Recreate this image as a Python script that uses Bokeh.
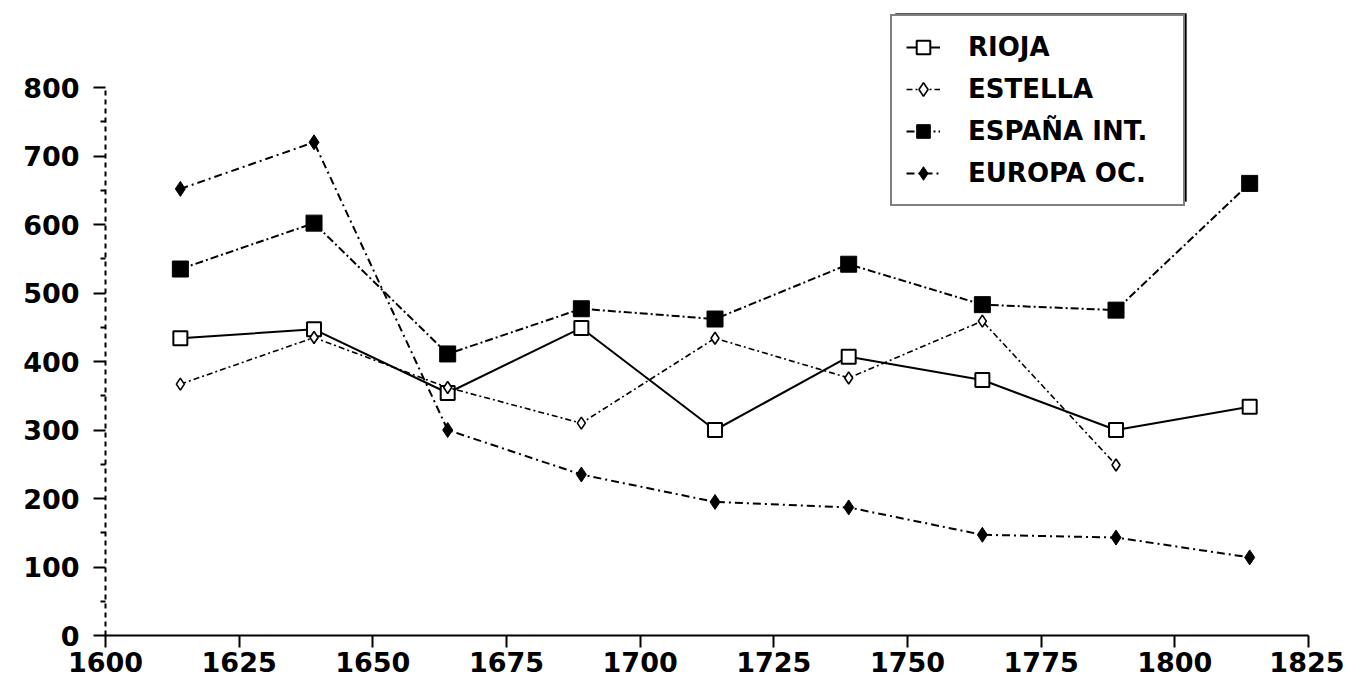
from bokeh.plotting import figure
from bokeh.models import Range1d, FixedTicker, Legend, LegendItem, BoxAnnotation
from bokeh.embed import file_html
from bokeh.resources import INLINE

# ---- data ----
years = [1614, 1639, 1664, 1689, 1714, 1739, 1764, 1789, 1814]
rioja = [434, 447, 354, 449, 300, 407, 373, 300, 334]
estella_years = [1614, 1639, 1664, 1689, 1714, 1739, 1764, 1789]
estella = [367, 435, 362, 310, 434, 376, 459, 249]
espana = [535, 602, 411, 477, 462, 542, 483, 475, 660]
europa = [652, 720, 300, 235, 195, 187, 147, 143, 114]
x_ticks = [1600, 1625, 1650, 1675, 1700, 1725, 1750, 1775, 1800, 1825]
y_ticks = [0, 100, 200, 300, 400, 500, 600, 700, 800]
y_minor = [50, 150, 250, 350, 450, 550, 650, 750]
series_labels = ["RIOJA", "ESTELLA", "ESPAÑA INT.", "EUROPA OC."]

FONT = "DejaVu Sans"

# frame: bottom at 635px, 800 at 87px; frame extends to the top so the legend is not clipped
TOP_PX, BOTTOM_PX, Y800_PX = 4, 635, 87
y_end = 800 * (BOTTOM_PX - TOP_PX) / (BOTTOM_PX - Y800_PX)

p = figure(width=1344, height=690, output_backend="svg", toolbar_location=None,
           x_range=Range1d(1600, 1825), y_range=Range1d(0, y_end),
           min_border_left=105, min_border_right=36, min_border_top=TOP_PX, min_border_bottom=55)
p.outline_line_color = None
p.xgrid.visible = False
p.ygrid.visible = False
p.background_fill_color = "white"

# x axis
xa = p.xaxis[0]
xa.ticker = FixedTicker(ticks=x_ticks)
xa.axis_line_width = 2
xa.major_tick_out = 12
xa.major_tick_in = 0
xa.major_tick_line_width = 2
xa.minor_tick_line_color = None
xa.major_label_standoff = 4
xa.major_label_text_font = FONT
xa.major_label_text_font_style = "bold"
xa.major_label_text_font_size = "27px"
xa.major_label_text_color = "black"

# y axis
ya = p.yaxis[0]
ya.ticker = FixedTicker(ticks=y_ticks, minor_ticks=y_minor)
ya.bounds = (0, 800)
ya.axis_line_width = 2
ya.axis_line_dash = "5 4"
ya.major_tick_out = 12
ya.major_tick_in = 0
ya.major_tick_line_width = 2
ya.minor_tick_out = 5
ya.minor_tick_in = 0
ya.minor_tick_line_width = 2
ya.major_label_standoff = 14
ya.major_label_text_font = FONT
ya.major_label_text_font_style = "bold"
ya.major_label_text_font_size = "27px"
ya.major_label_text_color = "black"

# series
l1 = p.line(years, rioja, line_color="black", line_width=2)
m1 = p.scatter(years, rioja, marker="square", size=14, fill_color="white",
               line_color="black", line_width=2)

l2 = p.line(estella_years, estella, line_color="black", line_width=1.6, line_dash="6 3 2 3")
m2 = p.scatter(estella_years, estella, marker="diamond", size=12, fill_color="white",
               line_color="black", line_width=1.6)

l3 = p.line(years, espana, line_color="black", line_width=2, line_dash="8 3 2 3")
m3 = p.scatter(years, espana, marker="square", size=16, fill_color="black",
               line_color="black", line_width=1)

l4 = p.line(years, europa, line_color="black", line_width=2, line_dash="8 4 2 4")
m4 = p.scatter(years, europa, marker="diamond", size=15, fill_color="black",
               line_color="black", line_width=1)

pairs = [(l1, m1), (l2, m2), (l3, m3), (l4, m4)]

# legend geometry (screen px, relative to the frame's bottom-left corner)
LEG_X, LEG_Y, LEG_W, LEG_H = 785, 429, 291, 188
SHADOW = 5

shadow = BoxAnnotation(left=LEG_X + SHADOW, right=LEG_X + LEG_W + SHADOW,
                       bottom=LEG_Y + SHADOW, top=LEG_Y + LEG_H + SHADOW,
                       left_units="screen", right_units="screen",
                       bottom_units="screen", top_units="screen",
                       fill_color="black", fill_alpha=1.0, line_color="black",
                       line_width=1)
p.add_layout(shadow)

items = [LegendItem(label=lab, renderers=[ln, mk]) for lab, (ln, mk) in zip(series_labels, pairs)]
lg = Legend(items=items, location=(LEG_X, LEG_Y), orientation="vertical")
lg.margin = 0
lg.padding = 14
lg.spacing = 8
lg.glyph_width = 34
lg.glyph_height = 34
lg.label_height = 34
lg.label_width = 201
lg.label_standoff = 28
lg.label_text_font = FONT
lg.label_text_font_style = "bold"
lg.label_text_font_size = "26px"
lg.label_text_color = "black"
lg.border_line_color = "black"
lg.border_line_width = 2
lg.background_fill_color = "white"
lg.background_fill_alpha = 1.0
p.add_layout(lg, "center")

open("out.html", "w").write(file_html(p, INLINE))
